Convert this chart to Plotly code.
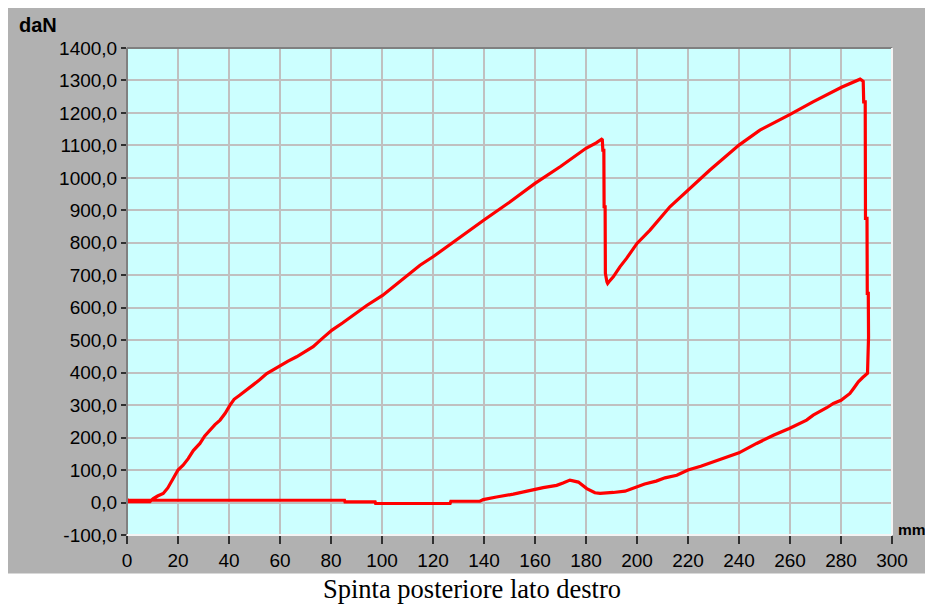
import plotly.graph_objects as go

# Travel (mm) and force (daN), in drawing order
travel_mm = [
    0, 0.3, 9, 10.3, 12, 14.2, 16, 18, 20, 22, 24, 26, 28.6, 30.5, 32.5, 34.5, 36.5, 38.5,
    40.4, 42, 44.3, 47, 49.5, 52, 54.8, 57.5, 60.3, 63, 66.5, 70, 73, 76.5, 80.4, 84.5,
    88.7, 94, 100.2, 107, 114.9, 120, 130, 140, 150, 160, 170, 180, 184, 186.1, 186.4,
    186.6, 187.0, 187.1, 187.5, 187.6, 188.2, 188.5, 189, 190.7, 193.3, 195.9, 200, 205.1,
    212.9, 220, 228.6, 240, 248.2, 259.7, 269, 280.2, 284.7, 287.5, 288.5, 288.7, 288.9,
    289.5, 289.6, 290.2, 290.3, 290.7, 290.8, 290.6, 290.4,
    288.5, 286.8, 285, 283.5, 280, 277, 274.4, 269.1, 266.5, 263, 259.7, 253.5, 246.9,
    240, 232.5, 230, 225, 220, 215.6, 211, 207.5, 203, 200, 197.3, 195.3, 190.7, 185.5,
    183.5, 181.5, 180.3, 177, 173.7, 171, 168.5, 163.2, 158, 151.5, 144.9, 139.7, 138.4,
    127, 126.7, 97.5, 97.3, 85.5, 85.3, 0,
]
force_daN = [
    12, 3, 3, 12, 20, 28, 45, 75, 100, 115, 135, 160, 182, 205, 223, 240, 254, 275,
    300, 318, 331, 347, 361, 378, 397, 410, 423, 435, 449, 465, 480, 505, 531, 553,
    577, 607, 638, 680, 731, 757, 815, 870, 925, 983, 1035, 1091, 1108, 1119, 1117,
    1085, 1085, 911, 911, 706, 680, 675, 680, 695, 726, 752, 798, 839,
    911, 962, 1024, 1101, 1147, 1194, 1234, 1279, 1296, 1304, 1299, 1300, 1234,
    1234, 875, 875, 644, 644, 510, 420, 398,
    385, 372, 352, 336, 315, 305, 292, 269, 254, 240, 228, 207, 182,
    153, 132, 125, 112, 100, 84, 76, 66, 57, 48, 42, 35, 31, 28,
    30, 38, 43, 63, 69, 60, 53, 46, 36, 26, 17, 9, 4,
    4, -3, -3, 2, 2, 7, 7,
]

x_ticks = list(range(0, 301, 20))
y_ticks = list(range(-100, 1401, 100))
y_tick_labels = [f"{v},0" for v in y_ticks]
title_text = "Spinta posteriore lato destro"
y_unit = "daN"
x_unit = "mm"

# page body adds an 8px offset; the figure is sized to fill the rest of the window
OFF = 8
W, H = 925, 599
L, R, T, B = 119, 41, 40, 72
pw, ph = W - L - R, H - T - B


def px_x(p):
    return (p - OFF - L) / pw


def px_y(p):
    return (H - B - (p - OFF)) / ph


tick_font = dict(family="Liberation Sans, Arial", size=19, color="#000000")

fig = go.Figure()
fig.add_trace(go.Scatter(
    x=travel_mm, y=force_daN, mode="lines",
    line=dict(color="#FF0000", width=3.2),
    hoverinfo="skip", showlegend=False,
))

shapes = [
    # gray panel
    dict(type="rect", xref="paper", yref="paper", layer="below",
         x0=px_x(8), x1=px_x(960), y0=px_y(573.5), y1=px_y(-10),
         fillcolor="#B1B1B1", line=dict(width=0)),
    # plot background
    dict(type="rect", xref="paper", yref="paper", layer="below",
         x0=0, x1=1, y0=0, y1=1, fillcolor="#CCFFFF", line=dict(width=0)),
    # sunken border: dark top/left, white bottom/right
    dict(type="line", xref="paper", yref="paper", x0=0, x1=1, y0=1, y1=1,
         line=dict(color="#808080", width=2)),
    dict(type="line", xref="paper", yref="paper", x0=0, x1=0, y0=0, y1=1,
         line=dict(color="#808080", width=2)),
    dict(type="line", xref="paper", yref="paper", x0=0, x1=1, y0=0, y1=0,
         line=dict(color="#F4F4F4", width=2)),
    dict(type="line", xref="paper", yref="paper", x0=1, x1=1, y0=0, y1=1,
         line=dict(color="#F4F4F4", width=2)),
]

annotations = [
    dict(text=f"<b>{y_unit}</b>", xref="paper", yref="paper", x=px_x(17), y=px_y(25),
         xanchor="left", yanchor="middle", showarrow=False,
         font=dict(family="Liberation Sans, Arial", size=20, color="#000000")),
    dict(text=f"<b>{x_unit}</b>", xref="paper", yref="paper", x=px_x(896), y=px_y(529),
         xanchor="left", yanchor="middle", showarrow=False,
         font=dict(family="Liberation Sans, Arial", size=15.5, color="#000000")),
    dict(text=title_text, xref="paper", yref="paper", x=px_x(472), y=px_y(589),
         xanchor="center", yanchor="middle", showarrow=False,
         font=dict(family="Liberation Serif, Times New Roman, serif", size=26.5, color="#000000")),
]

fig.update_layout(
    width=W, height=H,
    margin=dict(l=L, r=R, t=T, b=B, pad=0),
    paper_bgcolor="#FFFFFF",
    plot_bgcolor="rgba(0,0,0,0)",
    shapes=shapes,
    annotations=annotations,
    showlegend=False,
    xaxis=dict(
        range=[0, 300], tickvals=x_ticks, ticktext=[str(v) for v in x_ticks],
        showgrid=True, gridcolor="#C0C0C0", gridwidth=2,
        zeroline=False, showline=False,
        ticks="outside", ticklen=8, tickwidth=1.5, tickcolor="#303030",
        tickfont=tick_font, fixedrange=True,
    ),
    yaxis=dict(
        range=[-100, 1400], tickvals=y_ticks, ticktext=y_tick_labels,
        showgrid=True, gridcolor="#C0C0C0", gridwidth=2,
        zeroline=False, showline=False,
        ticks="outside", ticklen=5, tickwidth=1.5, tickcolor="#303030",
        tickfont=tick_font, fixedrange=True,
    ),
)

fig.write_html("out.html")
